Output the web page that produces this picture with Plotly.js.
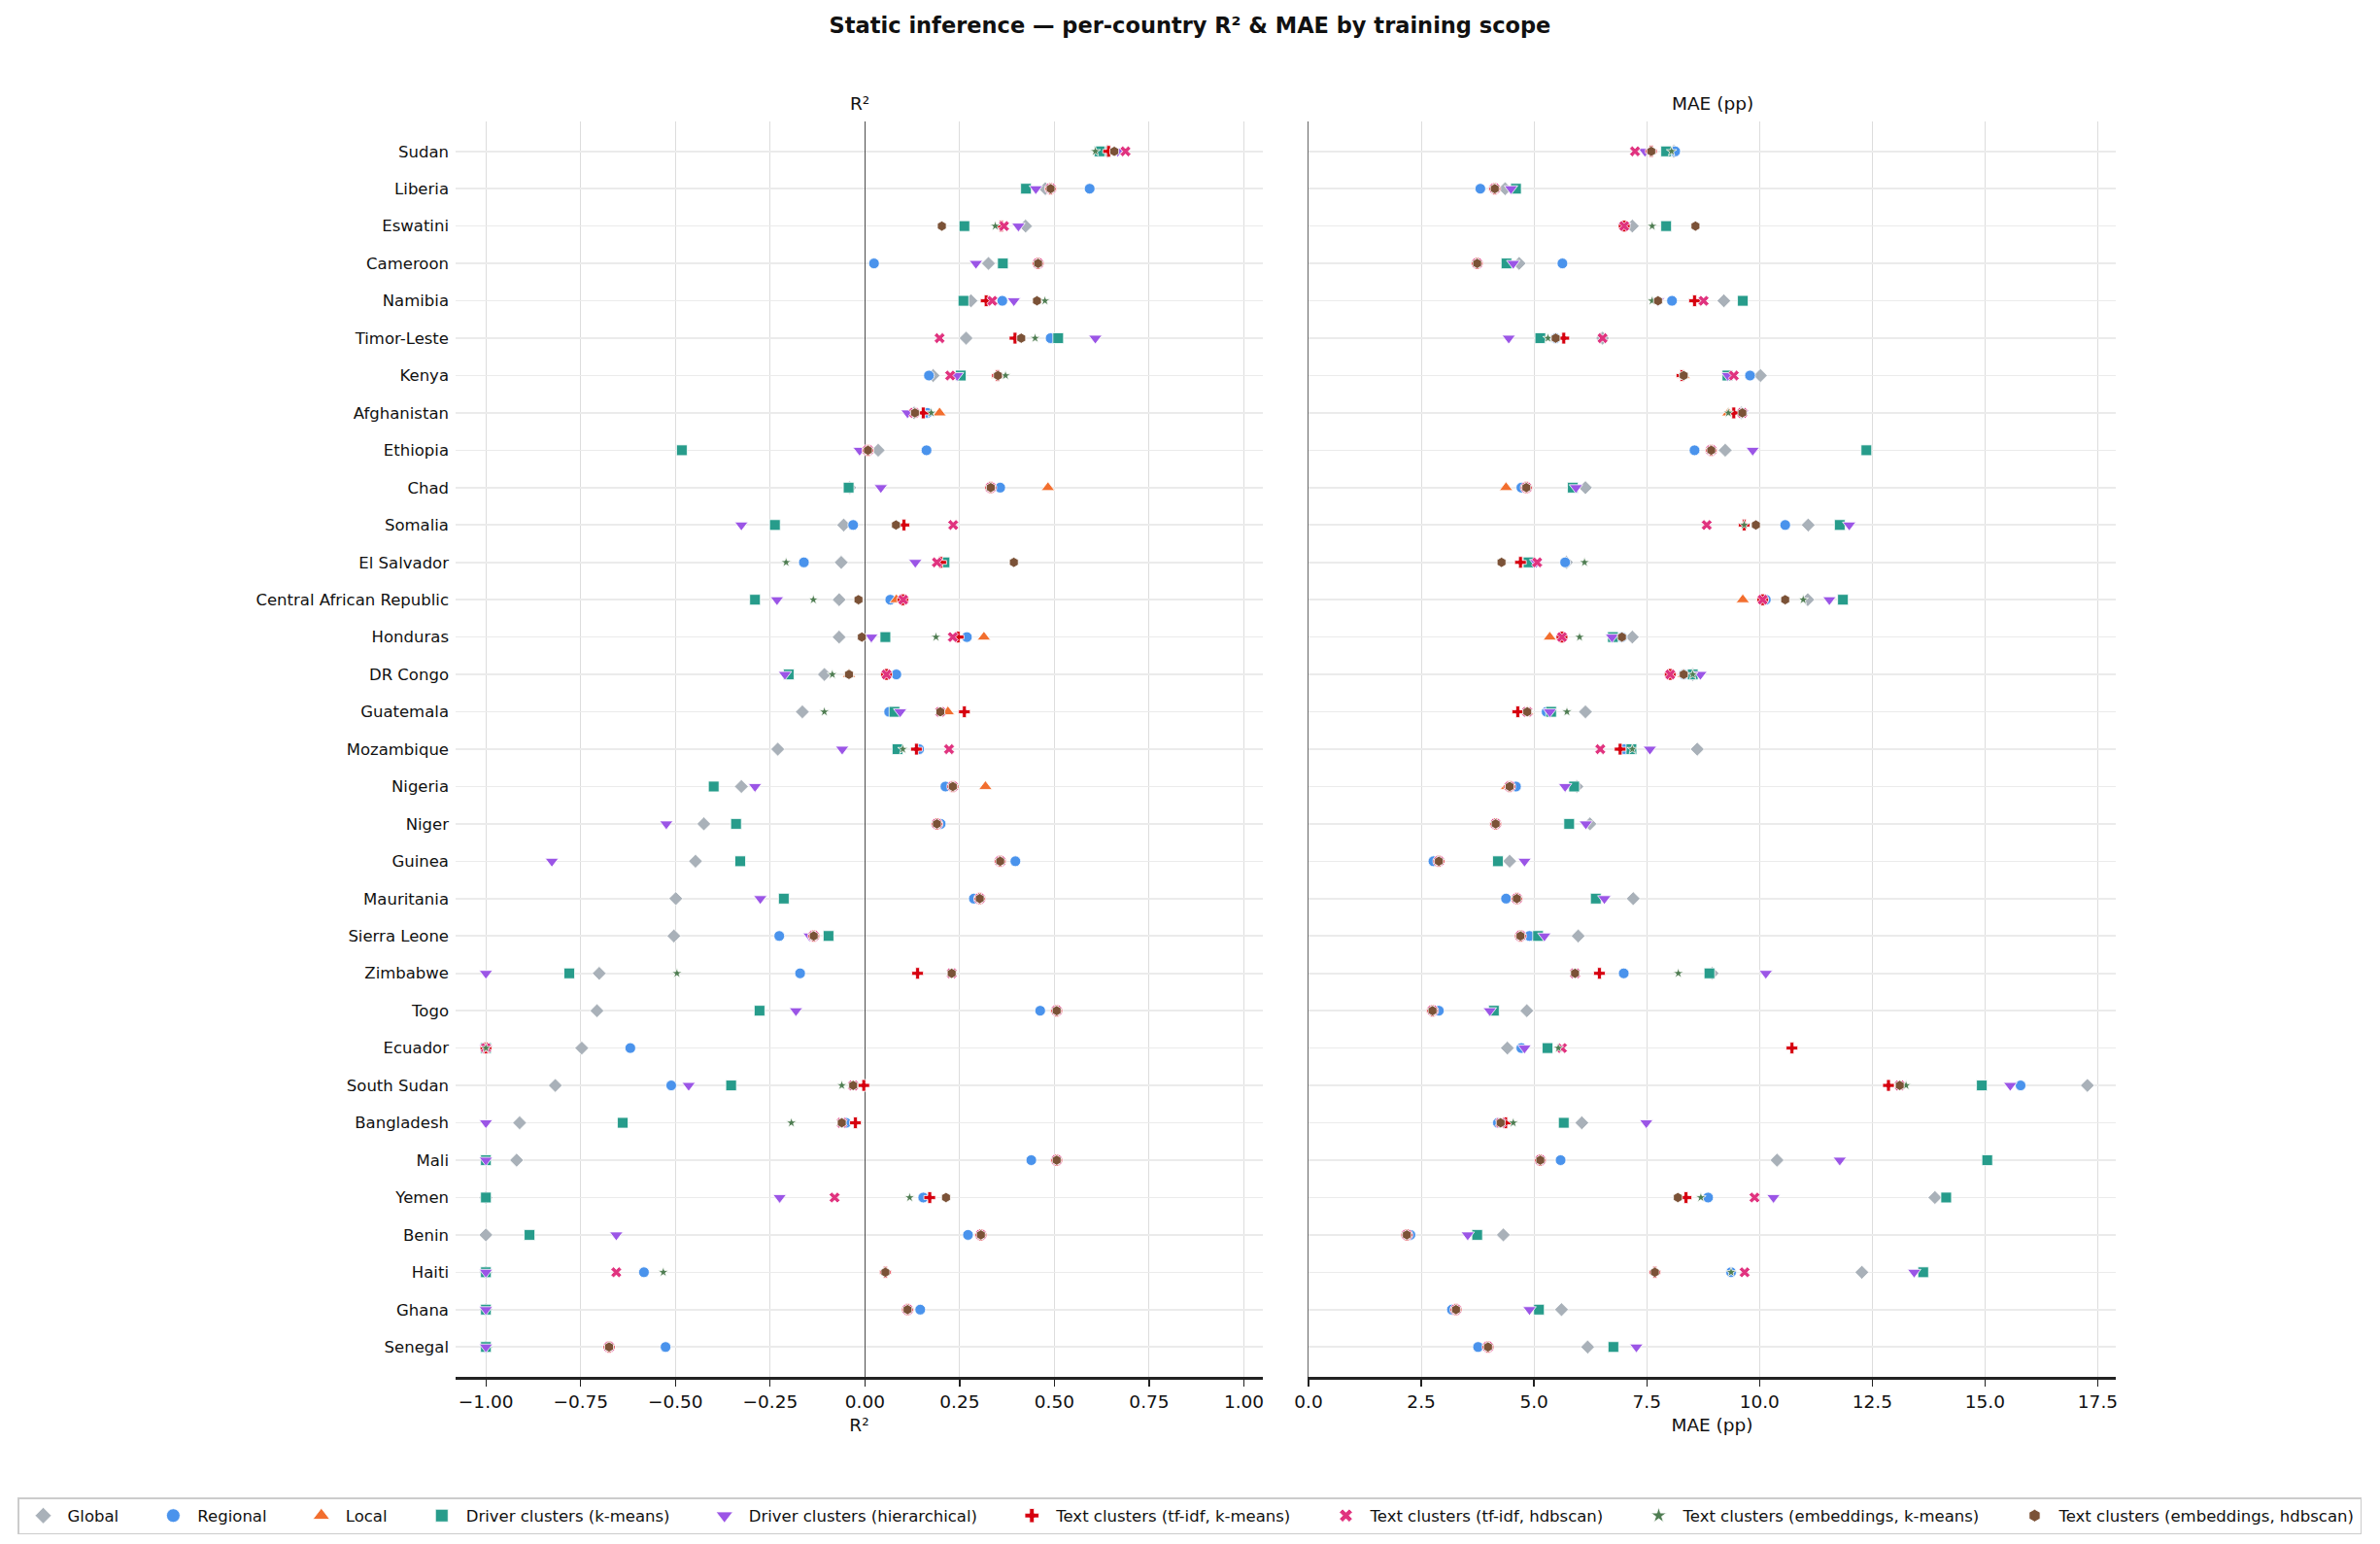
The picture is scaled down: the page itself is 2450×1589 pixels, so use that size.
<!DOCTYPE html>
<html>
<head>
<meta charset="utf-8">
<script src="https://cdn.plot.ly/plotly-3.0.1.min.js"></script>
<style>
  html, body { margin: 0; padding: 0; background: #ffffff; }
  #chart { width: 2450px; height: 1589px; }
</style>
</head>
<body>
<div id="chart"></div>
<script>
// Countries, ordered by Global R² (best at top)
const countries = ["Sudan","Liberia","Eswatini","Cameroon","Namibia","Timor-Leste","Kenya","Afghanistan","Ethiopia","Chad","Somalia","El Salvador","Central African Republic","Honduras","DR Congo","Guatemala","Mozambique","Nigeria","Niger","Guinea","Mauritania","Sierra Leone","Zimbabwe","Togo","Ecuador","South Sudan","Bangladesh","Mali","Yemen","Benin","Haiti","Ghana","Senegal"];

// R² per training scope (clipped at -1)
const r2Global   = [0.64, 0.476, 0.424, 0.326, 0.28, 0.267, 0.18, 0.13, 0.035, -0.04, -0.056, -0.0625, -0.068, -0.068, -0.107, -0.165, -0.23, -0.326, -0.425, -0.447, -0.499, -0.504, -0.701, -0.707, -0.747, -0.817, -0.911, -0.919, -1, -1, -1, -1, -1];
const r2Regional = [0.62, 0.593, null, 0.024, 0.3625, 0.49, 0.169, 0.165, 0.1625, 0.357, -0.031, -0.161, 0.067, 0.269, 0.083, 0.064, 0.143, 0.2125, 0.2, 0.397, 0.2875, -0.226, -0.171, 0.4625, -0.619, -0.511, -0.05, 0.439, 0.154, 0.272, -0.583, 0.146, -0.526];
const r2Local    = [null, null, null, null, null, null, 0.35, 0.197, null, 0.483, null, null, 0.083, 0.314, -0.042, 0.219, null, 0.318, null, null, null, null, null, null, null, null, null, null, null, null, null, null, null];
const r2DrvKm    = [0.619, 0.425, 0.2625, 0.364, 0.26, 0.51, 0.253, null, -0.483, -0.043, -0.2375, 0.21, -0.29, 0.054, -0.201, 0.078, 0.086, -0.399, -0.34, -0.329, -0.214, -0.096, -0.78, -0.278, -1, -0.353, -0.639, -1, -1, -0.885, -1, -1, -1];
const r2DrvHier  = [0.667, 0.451, 0.405, 0.293, 0.393, 0.608, 0.243, 0.1125, -0.014, 0.042, -0.326, 0.133, -0.232, 0.017, -0.211, 0.093, -0.06, -0.29, -0.524, -0.826, -0.276, -0.146, -1, -0.182, -1, -0.465, -1, -1, -0.225, -0.656, -1, -1, -1];
const r2TfKm     = [0.643, 0.49, 0.36, 0.457, 0.32, 0.396, 0.35, 0.154, 0.008, 0.332, 0.103, 0.2, 0.1, 0.246, 0.057, 0.2625, 0.136, 0.232, 0.19, 0.357, 0.303, -0.135, 0.139, 0.506, -1, -0.003, -0.025, 0.506, 0.171, 0.306, 0.054, 0.1125, -0.675];
const r2TfHdb    = [0.6875, 0.49, 0.367, 0.457, 0.336, 0.197, 0.225, 0.13, 0.008, 0.332, 0.233, 0.19, 0.101, 0.232, 0.057, 0.199, 0.222, 0.232, 0.19, 0.357, 0.303, -0.135, 0.229, 0.506, -1, -0.031, -0.061, 0.506, -0.08, 0.306, -0.656, 0.1125, -0.675];
const r2EmbKm    = [0.608, 0.49, 0.344, 0.457, 0.475, 0.449, 0.371, 0.175, 0.008, 0.332, 0.082, -0.208, -0.136, 0.1875, -0.086, -0.107, 0.1, 0.232, 0.19, 0.357, 0.303, -0.135, -0.496, 0.506, -1, -0.061, -0.194, 0.506, 0.118, 0.306, -0.532, 0.1125, -0.675];
const r2EmbHdb   = [0.658, 0.49, 0.203, 0.457, 0.454, 0.4125, 0.351, 0.132, 0.008, 0.332, 0.082, 0.393, -0.017, -0.008, -0.042, 0.199, null, 0.232, 0.19, 0.357, 0.303, -0.135, 0.229, 0.506, null, -0.031, -0.061, 0.506, 0.214, 0.306, 0.054, 0.1125, -0.675];

// MAE (percentage points) per training scope
const maeGlobal   = [8.10, 4.36, 7.18, 4.67, 9.21, 6.52, 10.02, 9.6, 9.24, 6.14, 11.08, 5.72, 11.07, 7.18, 8.52, 6.14, 8.62, 5.95, 6.24, 4.46, 7.2, 5.98, 8.95, 4.84, 4.41, 17.27, 6.06, 10.39, 13.89, 4.32, 12.27, 5.61, 6.19];
const maeRegional = [8.13, 3.81, null, 5.63, 8.06, 5.48, 9.79, 9.62, 8.56, 4.72, 10.57, 5.69, 10.14, 6.95, 8.32, 5.28, 7.0, 4.6, 4.15, 2.77, 4.38, 4.9, 6.99, 2.89, 4.72, 15.79, 4.2, 5.59, 8.86, 2.26, 9.37, 3.18, 3.76];
const maeLocal    = [null, null, null, null, null, null, 8.32, 9.31, null, 4.38, null, null, 9.63, 5.35, 8.32, 4.85, null, 4.4, null, null, null, null, null, null, null, null, null, null, null, null, null, null, null];
const maeDrvKm    = [7.93, 4.6, 7.93, 4.39, 9.63, 5.14, 9.29, null, 12.37, 5.86, 11.78, 4.88, 11.85, 6.75, 8.52, 5.38, 7.16, 5.89, 5.78, 4.2, 6.37, 5.09, 8.89, 4.11, 5.3, 14.93, 5.66, 15.05, 14.14, 3.74, 13.63, 5.11, 6.76];
const maeDrvHier  = [7.46, 4.49, 7.0, 4.54, 7.75, 4.44, 9.3, 9.62, 9.85, 5.93, 11.99, 5.05, 11.55, 6.73, 8.69, 5.35, 7.57, 5.69, 6.15, 4.79, 6.56, 5.23, 10.14, 4.02, 4.79, 15.56, 7.49, 11.78, 10.31, 3.53, 13.43, 4.9, 7.27];
const maeTfKm     = [7.6, 4.13, 7.0, 3.74, 8.56, 5.66, 8.28, 9.43, 8.93, 4.83, 9.66, 4.70, 10.07, 5.62, 8.02, 4.64, 6.91, 4.46, 4.15, 2.89, 4.62, 4.70, 6.45, 2.75, 10.72, 12.86, 4.37, 5.14, 8.37, 2.18, 7.68, 3.27, 3.98];
const maeTfHdb    = [7.24, 4.13, 7.0, 3.74, 8.76, 6.52, 9.43, 9.62, 8.93, 4.83, 8.83, 5.07, 10.07, 5.62, 8.02, 4.85, 6.47, 4.46, 4.15, 2.89, 4.62, 4.70, 5.91, 2.75, 5.62, 13.11, 4.26, 5.14, 9.89, 2.18, 9.67, 3.27, 3.98];
const maeEmbKm    = [8.05, 4.13, 7.62, 3.74, 7.62, 5.31, 8.32, 9.31, 8.93, 4.83, 9.66, 6.12, 10.97, 6.01, 8.52, 5.73, 7.18, 4.46, 4.15, 2.89, 4.62, 4.70, 8.2, 2.75, 5.54, 13.25, 4.54, 5.14, 8.7, 2.18, 9.37, 3.27, 3.98];
const maeEmbHdb   = [7.6, 4.13, 8.58, 3.74, 7.75, 5.48, 8.32, 9.62, 8.93, 4.83, 9.92, 4.28, 10.57, 6.95, 8.32, 4.85, null, 4.46, 4.15, 2.89, 4.62, 4.70, 5.91, 2.75, null, 13.11, 4.26, 5.14, 8.19, 2.18, 7.68, 3.27, 3.98];

// Training scopes: legend label, marker style and the two metric series
const scopes = [
  { name: "Global",                               symbol: "diamond",       color: "#a9b1b9", size: 11,   legendSize: 13, r2: r2Global,   mae: maeGlobal },
  { name: "Regional",                             symbol: "circle",        color: "#4a93ec", size: 11,   legendSize: 14, r2: r2Regional, mae: maeRegional },
  { name: "Local",                                symbol: "triangle-up",   color: "#f26e2e", size: 12,   legendSize: 15, r2: r2Local,    mae: maeLocal },
  { name: "Driver clusters (k-means)",            symbol: "square",        color: "#279c8b", size: 11,   legendSize: 13, r2: r2DrvKm,    mae: maeDrvKm },
  { name: "Driver clusters (hierarchical)",       symbol: "triangle-down", color: "#9b55e6", size: 12,   legendSize: 15, r2: r2DrvHier,  mae: maeDrvHier },
  { name: "Text clusters (tf-idf, k-means)",      symbol: "cross",         color: "#d6000f", size: 10,   legendSize: 12, r2: r2TfKm,     mae: maeTfKm },
  { name: "Text clusters (tf-idf, hdbscan)",      symbol: "x",             color: "#e0337f", size: 10,   legendSize: 12, r2: r2TfHdb,    mae: maeTfHdb },
  { name: "Text clusters (embeddings, k-means)",  symbol: "star",          color: "#4f7d52", size: 8,    legendSize: 12, r2: r2EmbKm,    mae: maeEmbKm },
  { name: "Text clusters (embeddings, hdbscan)",  symbol: "hexagon",       color: "#7b5237", size: 10.5, legendSize: 13, r2: r2EmbHdb,   mae: maeEmbHdb }
];

const rowIndex = countries.map((c, i) => i);
const FONT = "DejaVu Sans, Arial, sans-serif";
const LEGEND_PAD = "\u00a0".repeat(5);

const traces = [];
scopes.forEach((s, k) => {
  const marker = { symbol: s.symbol, color: s.color, size: s.size, line: { color: "#ffffff", width: 0.8 } };
  traces.push({
    type: "scatter", mode: "markers", name: s.name, legendgroup: s.name, showlegend: false,
    x: s.r2, y: rowIndex, xaxis: "x", yaxis: "y", marker: marker,
    cliponaxis: false, hoverinfo: "x+name"
  });
  traces.push({
    type: "scatter", mode: "markers", name: s.name, legendgroup: s.name, showlegend: false,
    x: s.mae, y: rowIndex, xaxis: "x2", yaxis: "y2", marker: marker,
    cliponaxis: false, hoverinfo: "x+name"
  });
  // legend key with a slightly larger symbol
  traces.push({
    type: "scatter", mode: "markers",
    name: s.name + (k < scopes.length - 1 ? LEGEND_PAD : ""),
    legendgroup: s.name, showlegend: true,
    x: [null], y: [null], xaxis: "x", yaxis: "y",
    marker: { symbol: s.symbol, color: s.color, size: s.legendSize, line: { color: "#ffffff", width: 0.8 } },
    hoverinfo: "skip"
  });
});

const W = 2450, H = 1589;
const plotTop = 125, plotBottom = 1417;
const plotH = plotBottom - plotTop;
const pyFromTop = px => 1 - (px - plotTop) / plotH;

const xCommon = {
  showline: true, linecolor: "#222222", linewidth: 2.5,
  ticks: "outside", ticklen: 7, tickwidth: 1.3, tickcolor: "#222222",
  showgrid: true, gridcolor: "#dddddd", gridwidth: 1,
  tickfont: { family: FONT, size: 18.5, color: "#111111" },
  title: { font: { family: FONT, size: 18.5, color: "#111111" }, standoff: 9 }
};

const layout = {
  width: W, height: H,
  paper_bgcolor: "#ffffff", plot_bgcolor: "#ffffff",
  margin: { l: 0, r: 0, t: plotTop, b: H - plotBottom, pad: 0 },
  font: { family: FONT, color: "#111111" },
  title: {
    text: "<b>Static inference — per-country R² & MAE by training scope</b>",
    font: { family: FONT, size: 22.5, color: "#111111" },
    x: 0.5, xanchor: "center", y: 1 - 26 / H, yanchor: "middle", yref: "container"
  },
  xaxis: Object.assign({}, xCommon, {
    domain: [469 / W, 1300 / W], anchor: "y",
    range: [-1.08, 1.05],
    // dark reference line at R² = 0
    zeroline: true, zerolinecolor: "#4d4d4d", zerolinewidth: 1.6,
    tickvals: [-1, -0.75, -0.5, -0.25, 0, 0.25, 0.5, 0.75, 1],
    ticktext: ["−1.00", "−0.75", "−0.50", "−0.25", "0.00", "0.25", "0.50", "0.75", "1.00"],
    title: Object.assign({}, xCommon.title, { text: "R²" })
  }),
  xaxis2: Object.assign({}, xCommon, {
    domain: [1347 / W, 2178 / W], anchor: "y2",
    range: [0, 17.9],
    zeroline: false,
    tickvals: [0, 2.5, 5, 7.5, 10, 12.5, 15, 17.5],
    ticktext: ["0.0", "2.5", "5.0", "7.5", "10.0", "12.5", "15.0", "17.5"],
    title: Object.assign({}, xCommon.title, { text: "MAE (pp)" })
  }),
  yaxis: {
    domain: [0, 1], anchor: "x",
    range: [32.8, -0.8],
    tickvals: rowIndex, ticktext: countries,
    ticks: "", ticklabelstandoff: 6,
    showline: false, zeroline: false,
    showgrid: true, gridcolor: "#ebebeb", gridwidth: 1.6,
    tickfont: { family: FONT, size: 16.5, color: "#111111" }
  },
  yaxis2: {
    domain: [0, 1], anchor: "x2", matches: "y",
    range: [32.8, -0.8],
    tickvals: rowIndex, showticklabels: false, ticks: "",
    // left edge of the MAE panel
    showline: true, linecolor: "#666666", linewidth: 1.2,
    zeroline: false,
    showgrid: true, gridcolor: "#ebebeb", gridwidth: 1.6
  },
  annotations: [
    { text: "R²", xref: "paper", yref: "paper", x: (469 + 1300) / 2 / W, y: pyFromTop(106),
      xanchor: "center", yanchor: "middle", showarrow: false,
      font: { family: FONT, size: 18.5, color: "#111111" } },
    { text: "MAE (pp)", xref: "paper", yref: "paper", x: (1347 + 2178) / 2 / W, y: pyFromTop(106),
      xanchor: "center", yanchor: "middle", showarrow: false,
      font: { family: FONT, size: 18.5, color: "#111111" } }
  ],
  showlegend: true,
  legend: {
    orientation: "h",
    x: 0.4998, xanchor: "center",
    y: pyFromTop(1560), yanchor: "middle",
    bgcolor: "#ffffff", bordercolor: "#cccccc", borderwidth: 1.5,
    font: { family: FONT, size: 16.5, color: "#111111" },
    itemwidth: 40, traceorder: "normal"
  }
};

Plotly.newPlot("chart", traces, layout, { displayModeBar: false, staticPlot: true });
</script>
</body>
</html>
